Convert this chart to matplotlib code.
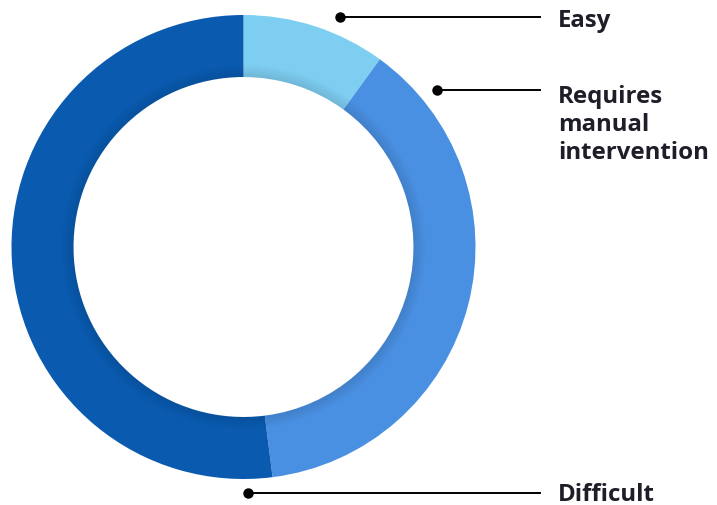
import matplotlib.pyplot as plt
from matplotlib.patches import Wedge

# data
labels = ["Easy", "Requires\nmanual\nintervention", "Difficult"]
shares = [10, 38, 52]
colors = ["#7ecef2", "#4a90e2", "#0a5bb0"]

fig = plt.figure(figsize=(7.17, 5.06), dpi=100)
ax = fig.add_axes([0, 0, 1, 1])

cx, cy, R, w = 243.5, 248, 232, 62
# y axis is flipped below, so counterclock in data = clockwise on screen
ax.pie(shares, colors=colors, startangle=-90, counterclock=True,
       radius=R, center=(cx, cy), frame=True,
       wedgeprops=dict(width=w, linewidth=0))
ax.set_xlim(0, 717)
ax.set_ylim(506, 0)
ax.set_aspect("equal")
ax.axis("off")

# soft inner shadow
rin = R - w
for i in range(12):
    ax.add_patch(Wedge((cx, cy), rin + i + 1, 0, 360, width=1.2,
                       color="black", alpha=0.09 * (1 - i / 12), lw=0))

# leader lines + labels
dots = [(340, 18), (437, 91), (248, 494)]
baselines = [27, 103, 501]
for (dx, dy), by, lab in zip(dots, baselines, labels):
    ax.plot([dx, 540], [dy, dy], color="black", lw=1.4)
    ax.plot(dx, dy, "o", color="black", ms=6.5)
    for k, line in enumerate(lab.split("\n")):
        ax.text(558, by + 28 * k, line, fontsize=17.3, fontweight="bold",
                family="Open Sans", color="#1e1e28", va="baseline", ha="left")

fig.savefig("out.png", dpi=100)
